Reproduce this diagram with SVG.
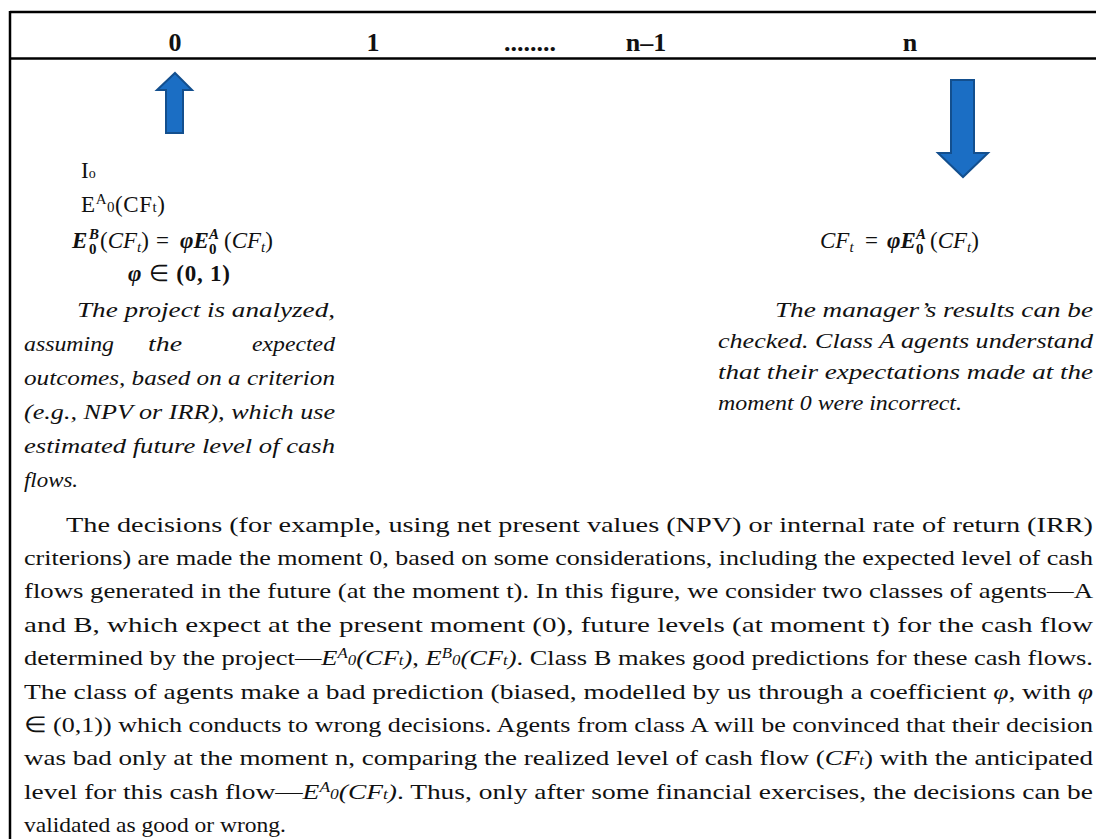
<svg xmlns="http://www.w3.org/2000/svg" width="1096" height="839" viewBox="0 0 1096 839">
<style>
text{font-family:"Liberation Serif","Times New Roman",serif;fill:#111;}
.hd{font-size:26px;font-weight:bold;text-anchor:middle;}
.b{font-weight:bold;}
.i{font-style:italic;}
.bi{font-weight:bold;font-style:italic;}
.body{font-size:22px;}
.it{font-size:22px;font-style:italic;}
.m{font-size:23px;}
.s{font-size:15px;}
.arrow{fill:#1B6EC4;stroke:#134F8E;stroke-width:2;}
.rule{stroke:#000;stroke-width:2.5;fill:none;}
</style>
<rect width="1096" height="839" fill="#fff"/>
<g id="frame">
<line class="rule" x1="10" y1="12" x2="1096" y2="12"/>
<line class="rule" x1="10" y1="58.5" x2="1096" y2="58.5"/>
<line class="rule" x1="10" y1="11" x2="10" y2="839"/>
</g>
<g id="timeline">
<text class="hd" x="175" y="51">0</text>
<text class="hd" x="373" y="51">1</text>
<text class="hd" x="530" y="51">........</text>
<text class="hd" x="646" y="51">n–1</text>
<text class="hd" x="910" y="51">n</text>
</g>
<g id="connectors">
<polygon id="arrow-up" class="arrow" points="175,73 192,90 183,90 183,133 166,133 166,90 157,90"/>
<polygon id="arrow-down" class="arrow" points="951,80 974,80 974,153 988,153 963,177 938,153 951,153"/>
</g>
<g id="moment0">
<text x="81" y="178" font-size="23">I<tspan font-size="14">o</tspan></text>
<text x="81" y="212" font-size="23" textLength="84">E<tspan class="s" dy="-8">A</tspan><tspan class="s" dy="8">0</tspan>(CF<tspan class="s">t</tspan>)</text>
<text class="m" y="248">
<tspan class="bi" x="72">E</tspan>
<tspan class="bi s" x="89" y="239">B</tspan>
<tspan class="b s" x="89" y="254">0</tspan>
<tspan x="100" y="248">(</tspan><tspan class="i">CF</tspan><tspan class="i s" dy="4">t</tspan><tspan dy="-4">)</tspan>
<tspan x="156">=</tspan>
<tspan class="bi" x="180">φE</tspan>
<tspan class="bi s" x="209" y="239">A</tspan>
<tspan class="b s" x="209" y="254">0</tspan>
<tspan x="224" y="248">(</tspan><tspan class="i">CF</tspan><tspan class="i s" dy="4">t</tspan><tspan dy="-4">)</tspan>
</text>
<text class="m" x="128" y="281" textLength="102"><tspan class="bi">φ</tspan> ∈ <tspan class="b">(0, 1)</tspan></text>
<text class="it" x="77" y="317" textLength="258" lengthAdjust="spacingAndGlyphs">The project is analyzed,</text>
<text class="it" x="24" y="351" textLength="90" lengthAdjust="spacingAndGlyphs">assuming</text>
<text class="it" x="148" y="351" textLength="34" lengthAdjust="spacingAndGlyphs">the</text>
<text class="it" x="252" y="351" textLength="83" lengthAdjust="spacingAndGlyphs">expected</text>
<text class="it" x="24" y="385" textLength="311" lengthAdjust="spacingAndGlyphs">outcomes, based on a criterion</text>
<text class="it" x="24" y="419" textLength="311" lengthAdjust="spacingAndGlyphs">(e.g., NPV or IRR), which use</text>
<text class="it" x="24" y="453" textLength="311" lengthAdjust="spacingAndGlyphs">estimated future level of cash</text>
<text class="it" x="24" y="487" textLength="54" lengthAdjust="spacingAndGlyphs">flows.</text>
</g>
<g id="momentn">
<text class="m" y="248">
<tspan class="i" x="820">CF</tspan><tspan class="i s" dy="4">t</tspan>
<tspan x="865" dy="-4">=</tspan>
<tspan class="bi" x="887">φE</tspan>
<tspan class="bi s" x="916" y="239">A</tspan>
<tspan class="b s" x="916" y="254">0</tspan>
<tspan x="930" y="248">(</tspan><tspan class="i">CF</tspan><tspan class="i s" dy="4">t</tspan><tspan dy="-4">)</tspan>
</text>
<text class="it" x="775" y="317" textLength="318" lengthAdjust="spacingAndGlyphs">The manager’s results can be</text>
<text class="it" x="718" y="348" textLength="375" lengthAdjust="spacingAndGlyphs">checked. Class A agents understand</text>
<text class="it" x="718" y="379" textLength="375" lengthAdjust="spacingAndGlyphs">that their expectations made at the</text>
<text class="it" x="718" y="410" textLength="244" lengthAdjust="spacingAndGlyphs">moment 0 were incorrect.</text>
</g>
<g id="caption">
<text class="body" x="66" y="532" textLength="1027" lengthAdjust="spacingAndGlyphs">The decisions (for example, using net present values (NPV) or internal rate of return (IRR)</text>
<text class="body" x="24" y="565" textLength="1069" lengthAdjust="spacingAndGlyphs">criterions) are made the moment 0, based on some considerations, including the expected level of cash</text>
<text class="body" x="24" y="598" textLength="1069" lengthAdjust="spacingAndGlyphs">flows generated in the future (at the moment t). In this figure, we consider two classes of agents—A</text>
<text class="body" x="24" y="632" textLength="1069" lengthAdjust="spacingAndGlyphs">and B, which expect at the present moment (0), future levels (at moment t) for the cash flow</text>
<text class="body" x="24" y="665" textLength="1069" lengthAdjust="spacingAndGlyphs">determined by the project—<tspan class="i">E<tspan font-size="14" dy="-7">A</tspan><tspan font-size="14" dy="7">0</tspan>(CF<tspan font-size="14">t</tspan>)</tspan>, <tspan class="i">E<tspan font-size="14" dy="-7">B</tspan><tspan font-size="14" dy="7">0</tspan>(CF<tspan font-size="14">t</tspan>)</tspan>. Class B makes good predictions for these cash flows.</text>
<text class="body" x="24" y="699" textLength="1069" lengthAdjust="spacingAndGlyphs">The class of agents make a bad prediction (biased, modelled by us through a coefficient <tspan class="i">φ</tspan>, with <tspan class="i">φ</tspan></text>
<text class="body" x="24" y="732" textLength="1069" lengthAdjust="spacingAndGlyphs">∈ (0,1)) which conducts to wrong decisions. Agents from class A will be convinced that their decision</text>
<text class="body" x="24" y="765" textLength="1069" lengthAdjust="spacingAndGlyphs">was bad only at the moment n, comparing the realized level of cash flow (<tspan class="i">CF<tspan font-size="14">t</tspan></tspan>) with the anticipated</text>
<text class="body" x="24" y="799" textLength="1069" lengthAdjust="spacingAndGlyphs">level for this cash flow—<tspan class="i">E<tspan font-size="14" dy="-7">A</tspan><tspan font-size="14" dy="7">0</tspan>(CF<tspan font-size="14">t</tspan>)</tspan>. Thus, only after some financial exercises, the decisions can be</text>
<text class="body" x="24" y="832" textLength="262" lengthAdjust="spacingAndGlyphs">validated as good or wrong.</text>
</g>
</svg>
